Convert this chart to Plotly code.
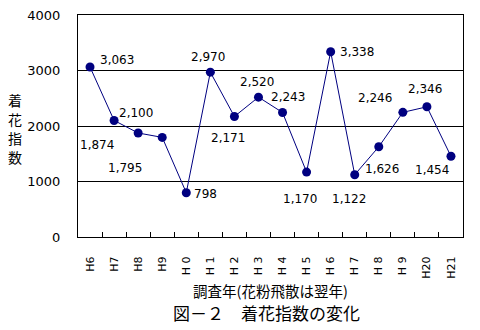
import plotly.graph_objects as go

categories = ["H6", "H7", "H8", "H9", "H 0", "H 1", "H 2", "H 3", "H 4", "H 5",
              "H 6", "H 7", "H 8", "H 9", "H20", "H21"]
values = [3063, 2100, 1874, 1795, 798, 2970, 2171, 2520, 2243, 1170,
          3338, 1122, 1626, 2246, 2346, 1454]
# label offsets (px) relative to each point
label_dx = [27, 22, -41, -37, 19, -2, -6, -1, 5, -7, 26, -6, 3, -28, -2, -19]
label_dy = [7, 7, -12, -31, -1, 15, -21, 15, 16, -27, 0, -24, -22, 14, 18, -14]

fig = go.Figure()
fig.add_trace(go.Scatter(
    x=categories, y=values, mode="lines+markers",
    line=dict(color="#000080", width=1),
    marker=dict(color="#000080", size=9),
    hoverinfo="skip", showlegend=False,
))

for c, v, dx, dy in zip(categories, values, label_dx, label_dy):
    fig.add_annotation(x=c, y=v, xref="x", yref="y", text=f"{v:,}",
                       showarrow=False, xshift=dx, yshift=dy,
                       font=dict(family="DejaVu Sans", size=12, color="black"))

# vertical y-axis title, one character per annotation
ytitle_chars = ["着", "花", "指", "数"]
for i, ch in enumerate(ytitle_chars):
    fig.add_annotation(x=-0.164, y=0.617 - i * 0.085, xref="paper", yref="paper",
                       text=ch, showarrow=False, xanchor="center", yanchor="middle",
                       font=dict(family="Noto Sans CJK JP", size=14, color="black"))

fig.add_annotation(x=0.499, y=-0.243, xref="paper", yref="paper",
                   text="調査年(花粉飛散は翌年)", showarrow=False,
                   xanchor="center", yanchor="middle",
                   font=dict(family="Noto Sans CJK JP", size=14.5, color="black"))

fig.add_annotation(x=0.490, y=-0.342, xref="paper", yref="paper",
                   text="図－２　着花指数の変化", showarrow=False,
                   xanchor="center", yanchor="middle",
                   font=dict(family="Noto Sans CJK JP", size=17, color="black"))

fig.update_layout(
    width=480, height=330,
    margin=dict(l=78, r=17, t=15, b=93, autoexpand=False),
    paper_bgcolor="white", plot_bgcolor="white",
    font=dict(family="DejaVu Sans", size=12, color="black"),
    xaxis=dict(
        type="category", tickangle=-90, tickson="boundaries",
        range=[-0.5, len(categories) - 0.5], automargin=False,
        ticks="inside", ticklen=5, tickcolor="black", tickwidth=1,
        showline=True, linecolor="black", linewidth=1, mirror=True,
        showgrid=False, tickfont=dict(size=11),
        ticklabelstandoff=14,
    ),
    yaxis=dict(
        range=[0, 4000], tickvals=[0, 1000, 2000, 3000, 4000], automargin=False,
        showline=True, linecolor="black", linewidth=1, mirror=True,
        showgrid=True, gridcolor="black", gridwidth=1, zeroline=False,
        ticks="", ticklabelstandoff=14, tickfont=dict(size=13),
    ),
)

fig.write_html("out.html")
